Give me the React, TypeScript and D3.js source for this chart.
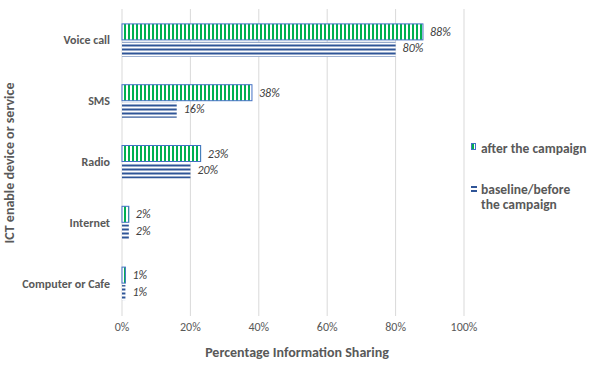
import React from "react";
import * as d3 from "d3";

const categories = ["Voice call", "SMS", "Radio", "Internet", "Computer or Cafe"];
const afterValues = [88, 38, 23, 2, 1];
const baselineValues = [80, 16, 20, 2, 1];
const xTicks = [0, 20, 40, 60, 80, 100];
const seriesNames = ["after the campaign", "baseline/before the campaign"];

const W = 595;
const H = 366;
const FONT = "Calibri, Carlito, 'Open Sans', sans-serif";
const GREY = "#595959";

export default function App() {
  const x = d3.scaleLinear().domain([0, 100]).range([122, 464]);
  const y = d3.scaleBand().domain(categories).range([10, 314]);
  const step = y.bandwidth();

  return (
    <svg width={W} height={H} style={{ position: "absolute", left: 0, top: 0 }} fontFamily={FONT}>
      <defs>
        <pattern id="vstripe" patternUnits="userSpaceOnUse" width={4} height={4}>
          <rect width={4} height={4} fill="#fff" />
          <rect width={2} height={4} fill="#00B050" />
        </pattern>
        <pattern id="hstripe" patternUnits="userSpaceOnUse" width={4} height={4} y={0.5}>
          <rect width={4} height={4} fill="#fff" />
          <rect width={4} height={2} fill="#2F5597" />
        </pattern>
      </defs>
      <rect width={W} height={H} fill="#fff" />
      {xTicks.map((t) => (
        <g key={t}>
          <line x1={x(t)} x2={x(t)} y1={9} y2={316} stroke="#D9D9D9" strokeWidth={1} />
          <text x={x(t)} y={331} textAnchor="middle" fontSize={12} fill={GREY}>
            {t}%
          </text>
        </g>
      ))}
      {categories.map((c, i) => {
        const cy = (y(c) as number) + step / 2;
        return (
          <g key={c}>
            <text x={110} y={cy + 4} textAnchor="end" fontSize={12} fontWeight="bold" fill={GREY}>
              {c}
            </text>
            <rect
              x={x(0)}
              y={cy - 16.5}
              width={x(afterValues[i]) - x(0)}
              height={16}
              fill="url(#vstripe)"
              stroke="#4472C4"
              strokeWidth={1}
            />
            <rect
              x={x(0)}
              y={cy + 1.5}
              width={x(baselineValues[i]) - x(0)}
              height={15}
              fill="url(#hstripe)"
            />
            <text x={x(afterValues[i]) + 7} y={cy - 4.5} fontSize={12} fontStyle="italic" fill="#404040">
              {afterValues[i]}%
            </text>
            <text x={x(baselineValues[i]) + 7} y={cy + 12} fontSize={12} fontStyle="italic" fill="#404040">
              {baselineValues[i]}%
            </text>
          </g>
        );
      })}
      <text x={297} y={357} textAnchor="middle" fontSize={14} fontWeight="bold" fill={GREY}>
        Percentage Information Sharing
      </text>
      <text
        transform={`translate(14,${163}) rotate(-90)`}
        textAnchor="middle"
        fontSize={14}
        fontWeight="bold"
        fill={GREY}
      >
        ICT enable device or service
      </text>
      <rect x={471.5} y={143.5} width={4} height={6} fill="url(#vstripe)" stroke="#4472C4" strokeWidth={1} />
      <text x={481} y={152.5} fontSize={13.5} fontWeight="bold" fill={GREY}>
        {seriesNames[0]}
      </text>
      <rect x={471} y={186} width={6} height={2} fill="#2F5597" />
      <rect x={471} y={190} width={6} height={2} fill="#2F5597" />
      <text x={481} y={193.5} fontSize={13.5} fontWeight="bold" fill={GREY}>
        baseline/before
      </text>
      <text x={481} y={209} fontSize={13.5} fontWeight="bold" fill={GREY}>
        the campaign
      </text>
    </svg>
  );
}
